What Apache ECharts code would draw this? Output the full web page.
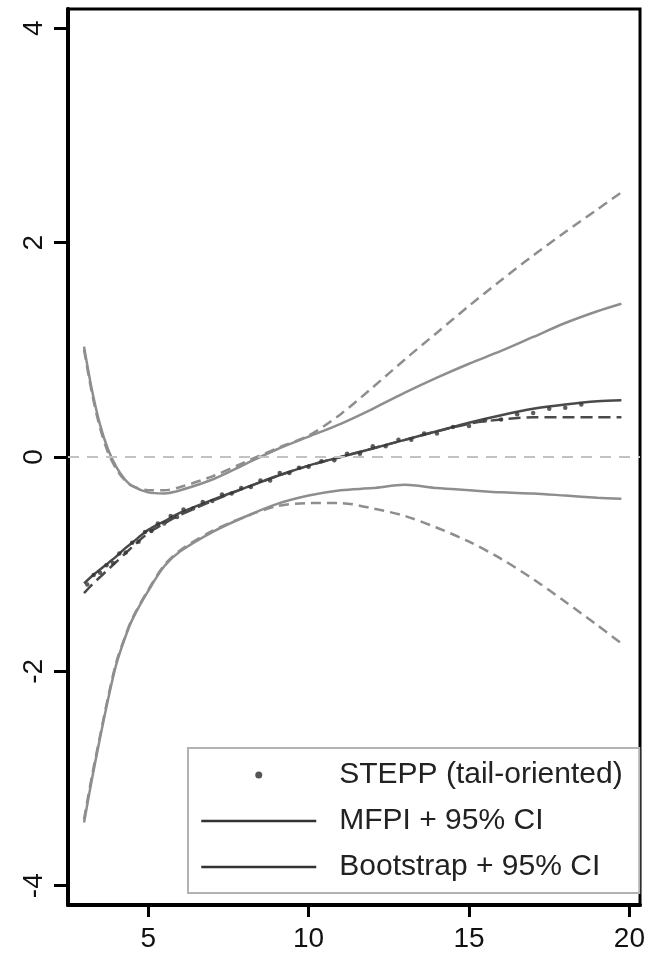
<!DOCTYPE html>
<html>
<head>
<meta charset="utf-8">
<script src="https://cdn.jsdelivr.net/npm/echarts@6/dist/echarts.min.js"></script>
<style>
html,body{margin:0;padding:0;background:#fff;}
#chart{width:648px;height:957px;}
</style>
</head>
<body>
<div id="chart"></div>
<script>
// ---- data ----
const xGrid = [3.0, 3.25, 3.5, 3.75, 4.0, 4.25, 4.5, 5.0, 5.5, 6.0, 7.0, 8.0, 9.0, 10.0, 11.0, 12.0, 13.0, 14.0, 15.0, 16.0, 17.0, 18.0, 19.0, 19.75];

const mfpiEst   = [-1.18, -1.11, -1.05, -0.99, -0.93, -0.86, -0.80, -0.68, -0.60, -0.52, -0.40, -0.29, -0.18, -0.08, 0.00, 0.08, 0.16, 0.24, 0.32, 0.39, 0.45, 0.49, 0.52, 0.53];
const mfpiUpper = [1.03, 0.62, 0.30, 0.07, -0.09, -0.20, -0.27, -0.33, -0.34, -0.31, -0.21, -0.07, 0.07, 0.19, 0.31, 0.45, 0.60, 0.74, 0.87, 0.99, 1.12, 1.25, 1.36, 1.43];
const mfpiLower = [-3.41, -3.00, -2.62, -2.26, -1.94, -1.71, -1.52, -1.25, -1.02, -0.88, -0.70, -0.56, -0.44, -0.36, -0.31, -0.29, -0.26, -0.29, -0.31, -0.33, -0.34, -0.36, -0.38, -0.39];

const bootEst   = [-1.27, -1.19, -1.12, -1.05, -0.98, -0.91, -0.84, -0.71, -0.62, -0.54, -0.41, -0.29, -0.18, -0.08, 0.00, 0.08, 0.16, 0.24, 0.31, 0.35, 0.37, 0.37, 0.37, 0.37];
const bootUpper = [1.00, 0.59, 0.27, 0.04, -0.11, -0.21, -0.27, -0.31, -0.31, -0.28, -0.18, -0.05, 0.08, 0.20, 0.40, 0.65, 0.91, 1.16, 1.41, 1.65, 1.88, 2.10, 2.31, 2.47];
const bootLower = [-3.38, -2.97, -2.60, -2.24, -1.92, -1.70, -1.51, -1.24, -1.01, -0.87, -0.69, -0.56, -0.46, -0.43, -0.43, -0.48, -0.55, -0.66, -0.79, -0.95, -1.14, -1.35, -1.57, -1.74];

const steppX = [3.1, 3.3, 3.5, 3.7, 3.9, 4.1, 4.3, 4.5, 4.7, 4.9, 5.1, 5.3, 5.5, 5.7, 5.9, 6.1, 6.4, 6.7, 7.0, 7.3, 7.6, 7.9, 8.2, 8.5, 8.8, 9.1, 9.4, 9.7, 10.0, 10.4, 10.8, 11.2, 11.6, 12.0, 12.4, 12.8, 13.2, 13.6, 14.0, 14.5, 15.0, 15.5, 16.0, 16.5, 17.0, 17.5, 18.0, 18.5];
const steppY = [-1.19, -1.10, -1.08, -1.01, -0.99, -0.90, -0.89, -0.80, -0.79, -0.70, -0.69, -0.62, -0.62, -0.55, -0.56, -0.49, -0.48, -0.42, -0.41, -0.35, -0.34, -0.29, -0.28, -0.22, -0.22, -0.15, -0.15, -0.10, -0.09, -0.04, -0.03, 0.03, 0.03, 0.10, 0.10, 0.16, 0.16, 0.22, 0.22, 0.28, 0.29, 0.34, 0.35, 0.40, 0.41, 0.45, 0.46, 0.49];

const xTicks = [5, 10, 15, 20];
const yTicks = [-4, -2, 0, 2, 4];

const legendNames = ['STEPP (tail-oriented)', 'MFPI + 95% CI', 'Bootstrap + 95% CI'];

// ---- build ----
const pairs = (xs, ys) => xs.map((x, i) => [x, ys[i]]);
const FONT = '"Liberation Sans", Arial, Helvetica, sans-serif';
const gray = '#8e8e8e';
const dark = '#4a4a4a';

function lineSeries(name, ys, color, width, type, z) {
  return {
    name: name, type: 'line', data: pairs(xGrid, ys),
    symbol: 'none', smooth: 0.3, silent: true, z: z || 2,
    itemStyle: { color: '#333', opacity: 0 },
    lineStyle: { color: color, width: width, type: type }
  };
}

const series = [
  lineSeries('MFPI upper', mfpiUpper, gray, 2.5, 'solid'),
  lineSeries('MFPI lower', mfpiLower, gray, 2.5, 'solid'),
  lineSeries('Boot upper', bootUpper, gray, 2.5, [10, 6]),
  lineSeries('Boot lower', bootLower, gray, 2.5, [10, 6]),
  lineSeries(legendNames[2], bootEst, dark, 2.5, [12, 6], 3),
  lineSeries(legendNames[1], mfpiEst, dark, 2.5, 'solid', 3),
  {
    name: legendNames[0], type: 'scatter', data: pairs(steppX, steppY),
    symbol: 'circle', symbolSize: 4.5, z: 4, silent: true,
    itemStyle: { color: '#333' }
  },
  {
    name: 'zero', type: 'line', data: [], silent: true,
    markLine: {
      silent: true, symbol: 'none', label: { show: false },
      lineStyle: { color: '#c2c2c2', width: 2, type: [11, 8] },
      data: [{ yAxis: 0 }]
    }
  }
];

const chart = echarts.init(document.getElementById('chart'), null, { renderer: 'canvas' });
chart.setOption({
  backgroundColor: '#fff',
  animation: false,
  grid: {
    left: 68, right: 6, top: 9, bottom: 52,
    show: true, borderColor: '#000', borderWidth: 3, backgroundColor: 'transparent'
  },
  xAxis: {
    type: 'value', min: 2.5, max: 20.33,
    axisLine: { show: true, onZero: false, lineStyle: { color: '#000', width: 4 } },
    axisTick: { show: true, customValues: xTicks, length: 12, lineStyle: { color: '#000', width: 3 } },
    axisLabel: { show: true, customValues: xTicks, margin: 20, color: '#111', fontSize: 28, fontFamily: FONT },
    splitLine: { show: false }
  },
  yAxis: {
    type: 'value', min: -4.18, max: 4.18,
    axisLine: { show: true, onZero: false, lineStyle: { color: '#000', width: 4 } },
    axisTick: { show: true, customValues: yTicks, length: 14, lineStyle: { color: '#000', width: 3 } },
    axisLabel: { show: true, customValues: yTicks, rotate: 90, margin: 20, color: '#111', fontSize: 28, fontFamily: FONT },
    splitLine: { show: false }
  },
  legend: {
    show: true, orient: 'vertical', left: 188, top: 748,
    padding: [12, 8, 11, 12], itemGap: 16, itemWidth: 115, itemHeight: 7,
    borderColor: '#b3b3b3', borderWidth: 2, backgroundColor: '#fff',
    selectedMode: false,
    textStyle: { fontSize: 30, fontFamily: FONT, color: '#222', lineHeight: 30, width: 292, padding: [0, 0, 0, 18] },
    data: [
      { name: legendNames[0], icon: 'circle', itemStyle: { color: '#555', opacity: 1 } },
      { name: legendNames[1], itemStyle: { opacity: 0 }, lineStyle: { color: '#333', width: 2.5, type: 'solid' } },
      { name: legendNames[2], itemStyle: { opacity: 0 }, lineStyle: { color: '#333', width: 2.5, type: 'solid' } }
    ]
  },
  series: series
});
</script>
</body>
</html>
